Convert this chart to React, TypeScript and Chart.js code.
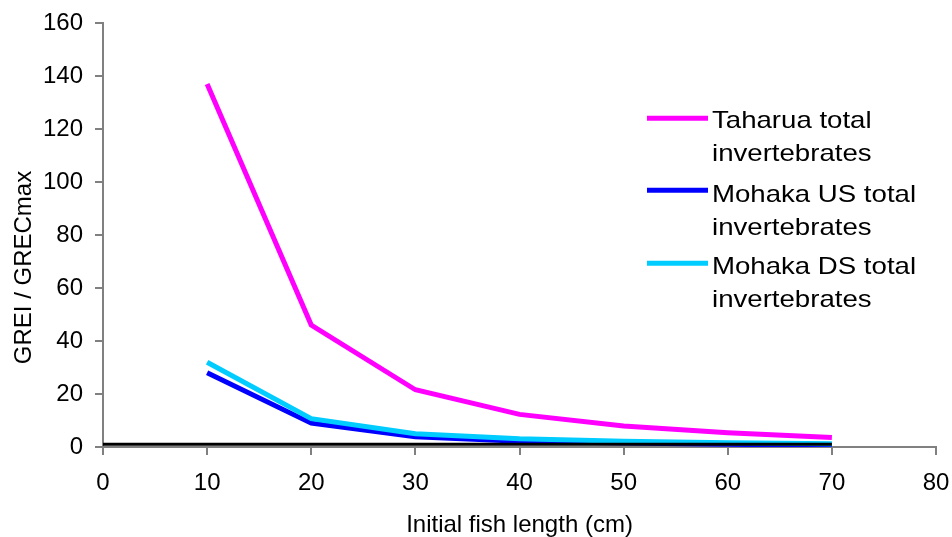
import React, { useEffect, useRef } from "react";
import { Chart, registerables } from "chart.js";

Chart.register(...registerables);

const lengths = [10, 20, 30, 40, 50, 60, 70];
const taharua = [137, 46, 21.6, 12.3, 7.9, 5.4, 3.6];
const mohakaUS = [28, 9, 3.9, 2.2, 1.5, 1.0, 0.7];
const mohakaDS = [32, 10.7, 5.0, 3.1, 2.2, 1.6, 1.2];
const refX = [0, 70];
const refY = [1, 1];

const xTitle = "Initial fish length (cm)";
const yTitle = "GREI / GRECmax";

const legendLabels = [
  ["Taharua total", "invertebrates"],
  ["Mohaka US total", "invertebrates"],
  ["Mohaka DS total", "invertebrates"],
];
const legendColors = ["#FF00FF", "#0000FF", "#00CCFF"];

const FONT = "'Liberation Sans', Arial, sans-serif";

const overlayPlugin = {
  id: "overlay",
  afterDraw(chart: any) {
    const ctx = chart.ctx;
    const area = chart.chartArea;
    ctx.save();
    // axis titles
    ctx.fillStyle = "#000";
    ctx.font = `24px ${FONT}`;
    ctx.textAlign = "center";
    ctx.textBaseline = "alphabetic";
    ctx.fillText(xTitle, (area.left + area.right) / 2, 532);
    ctx.save();
    ctx.translate(31, 267.5);
    ctx.rotate(-Math.PI / 2);
    ctx.fillText(yTitle, 0, 0);
    ctx.restore();

    // legend
    const x0 = 647;
    const x1 = 708;
    const tx = 712;
    const lineYs = [118.3, 190.3, 263.3];
    const baseYs = [128.3, 201.7, 274];
    ctx.textAlign = "left";
    legendLabels.forEach((lines, i) => {
      ctx.strokeStyle = legendColors[i];
      ctx.lineWidth = 5;
      ctx.beginPath();
      ctx.moveTo(x0, lineYs[i]);
      ctx.lineTo(x1, lineYs[i]);
      ctx.stroke();
      lines.forEach((t, j) => {
        ctx.save();
        ctx.translate(tx, baseYs[i] + j * 33);
        ctx.scale(1.15, 1);
        ctx.fillText(t, 0, 0);
        ctx.restore();
      });
    });
    ctx.restore();
  },
};

export default function App() {
  const ref = useRef<HTMLCanvasElement>(null);
  useEffect(() => {
    if (!ref.current) return;
    const toXY = (xs: number[], ys: number[]) => xs.map((x, i) => ({ x, y: ys[i] }));
    const chart = new Chart(ref.current, {
      type: "line",
      data: {
        datasets: [
          {
            label: legendLabels[0].join(" "),
            data: toXY(lengths, taharua),
            borderColor: legendColors[0],
            borderWidth: 5,
            pointRadius: 0,
            tension: 0,
          },
          {
            label: "reference",
            data: toXY(refX, refY),
            borderColor: "#000000",
            borderWidth: 3,
            pointRadius: 0,
            tension: 0,
          },
          {
            label: legendLabels[2].join(" "),
            data: toXY(lengths, mohakaDS),
            borderColor: legendColors[2],
            borderWidth: 5,
            pointRadius: 0,
            tension: 0,
          },
          {
            label: legendLabels[1].join(" "),
            data: toXY(lengths, mohakaUS),
            borderColor: legendColors[1],
            borderWidth: 5,
            pointRadius: 0,
            tension: 0,
          },
        ],
      },
      options: {
        responsive: false,
        animation: false,
        layout: { padding: { top: 23, right: 16, left: 0, bottom: 0 } },
        plugins: {
          legend: { display: false },
          tooltip: { enabled: false },
        },
        scales: {
          x: {
            type: "linear",
            min: 0,
            max: 80,
            ticks: { stepSize: 10, color: "#000", font: { family: FONT, size: 24 }, padding: 14, maxRotation: 0 },
            grid: { drawOnChartArea: false, drawTicks: true, tickLength: 8, color: "#808080", lineWidth: 2 },
            border: { color: "#808080", width: 2 },
            afterFit: (s: any) => {
              s.height = 90;
              s.paddingLeft = 0;
              s.paddingRight = 0;
            },
          },
          y: {
            min: 0,
            max: 160,
            ticks: { stepSize: 20, color: "#000", font: { family: FONT, size: 24 }, padding: 12 },
            grid: { drawOnChartArea: false, drawTicks: true, tickLength: 8, color: "#808080", lineWidth: 2 },
            border: { color: "#808080", width: 2 },
            afterFit: (s: any) => {
              s.width = 103;
              s.paddingTop = 0;
              s.paddingBottom = 0;
            },
          },
        },
      },
      plugins: [overlayPlugin],
    });
    return () => chart.destroy();
  }, []);
  return (
    <div style={{ position: "fixed", left: 0, top: 0, width: 952, height: 537, background: "#fff" }}>
      <canvas ref={ref} width={952} height={537} style={{ display: "block" }} />
    </div>
  );
}
